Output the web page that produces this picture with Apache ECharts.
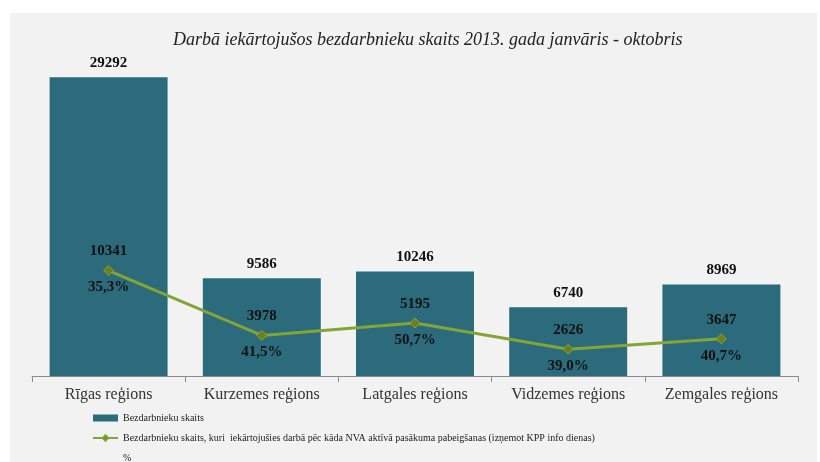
<!DOCTYPE html>
<html lang="lv">
<head>
    <meta charset="UTF-8">
    <title>Darbā iekārtojušos bezdarbnieku skaits</title>
    <script src="https://cdn.jsdelivr.net/npm/echarts@6/dist/echarts.min.js"></script>
    <style>
        body { margin: 0; background: #ffffff; }
        /* pelēkais fons zem diagrammas */
        #panel {
            position: absolute; left: 10px; top: 13px;
            width: 807px; height: 449px;
            background: #f2f2f2;
        }
        #main { position: absolute; left: 0; top: 0; width: 820px; height: 462px; }
    </style>
</head>
<body>
    <div id="panel"></div>
    <div id="main"></div>
    <script>
        // dati
        const regions = ['Rīgas reģions', 'Kurzemes reģions', 'Latgales reģions', 'Vidzemes reģions', 'Zemgales reģions'];
        const unemployed = [29292, 9586, 10246, 6740, 8969];
        const employedAfter = [10341, 3978, 5195, 2626, 3647];
        const percents = ['35,3%', '41,5%', '50,7%', '39,0%', '40,7%'];

        const barName = 'Bezdarbnieku skaits';
        const lineName = 'Bezdarbnieku skaits, kuri  iekārtojušies darbā pēc kāda NVA aktīvā pasākuma pabeigšanas (izņemot KPP info dienas)';

        const serif = '"Liberation Serif", "DejaVu Serif", serif';
        const numLabel = { fontFamily: serif, fontWeight: 'bold', fontSize: 15, color: '#111' };

        var chart = echarts.init(document.getElementById('main'));
        var option = {
            animation: false,
            backgroundColor: 'transparent',
            title: {
                text: 'Darbā iekārtojušos bezdarbnieku skaits 2013. gada janvāris - oktobris',
                left: 168,
                top: 26,
                textStyle: { fontFamily: serif, fontStyle: 'italic', fontWeight: 'normal', fontSize: 18, color: '#222' }
            },
            legend: {
                orient: 'vertical',
                left: 87,
                top: 407,
                height: 70,
                itemWidth: 25,
                itemHeight: 7,
                itemGap: 8,
                textStyle: { fontFamily: serif, fontSize: 10, color: '#222', lineHeight: 12 },
                data: [
                    { name: barName, icon: 'rect' },
                    { name: lineName },
                    { name: '%', icon: 'none' }
                ]
            },
            grid: { left: 32, right: 22, top: 70, bottom: 86 },
            xAxis: {
                type: 'category',
                data: regions,
                boundaryGap: true,
                axisLine: { lineStyle: { color: '#8c8c8c', width: 1 } },
                axisTick: { show: true, length: 6, lineStyle: { color: '#8c8c8c' } },
                axisLabel: { fontFamily: serif, fontSize: 16, color: '#333', margin: 11 }
            },
            yAxis: {
                type: 'value',
                min: 0,
                max: 30000,
                show: false,
                splitLine: { show: false }
            },
            series: [
                {
                    name: barName,
                    type: 'bar',
                    data: unemployed,
                    barWidth: '77%',
                    itemStyle: { color: '#2b6b7b' },
                    label: Object.assign({ show: true, position: 'top', distance: 7 }, numLabel)
                },
                {
                    name: lineName,
                    type: 'line',
                    data: employedAfter,
                    symbol: 'diamond',
                    symbolSize: 10,
                    lineStyle: { color: '#84a536', width: 3 },
                    itemStyle: { color: '#6e7f1e', borderColor: '#84a536', borderWidth: 1 },
                    label: Object.assign({ show: true, position: 'top', distance: 6 }, numLabel),
                    z: 3
                },
                {
                    name: '%',
                    type: 'line',
                    data: employedAfter,
                    symbol: 'circle',
                    symbolSize: 1,
                    lineStyle: { opacity: 0, width: 0 },
                    itemStyle: { color: 'rgba(0,0,0,0)' },
                    label: Object.assign({
                        show: true, position: 'bottom', distance: 9,
                        formatter: function (p) { return percents[p.dataIndex]; }
                    }, numLabel),
                    z: 4
                }
            ]
        };
        chart.setOption(option);
    </script>
</body>
</html>
